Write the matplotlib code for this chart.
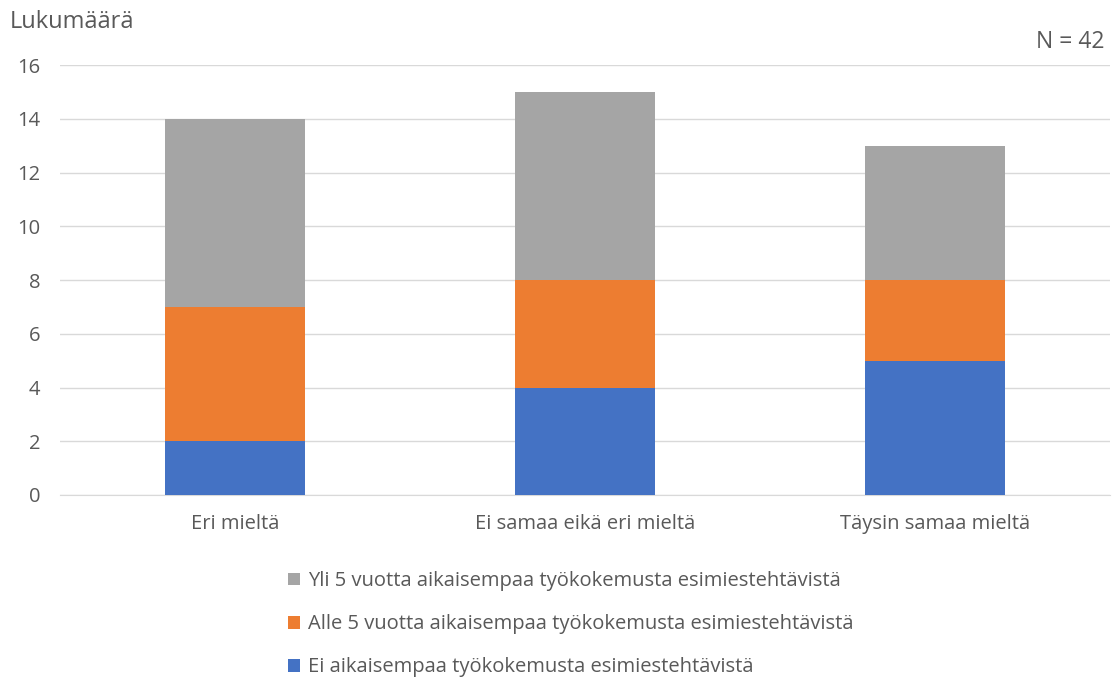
import matplotlib.pyplot as plt
import numpy as np

categories = ["Eri mieltä", "Ei samaa eikä eri mieltä", "Täysin samaa mieltä"]
series_labels = [
    "Ei aikaisempaa työkokemusta esimiestehtävistä",
    "Alle 5 vuotta aikaisempaa työkokemusta esimiestehtävistä",
    "Yli 5 vuotta aikaisempaa työkokemusta esimiestehtävistä",
]
ei_kokemusta = [2, 4, 5]
alle_5 = [5, 4, 3]
yli_5 = [7, 7, 5]
n_total = 42

colors = ["#4472C4", "#ED7D31", "#A5A5A5"]
text_color = "#595959"

plt.rcParams["font.family"] = ["Open Sans", "DejaVu Sans"]

fig = plt.figure(figsize=(11.12, 6.79), dpi=100)
ax = fig.add_axes([0.054, 0.271, 0.944, 0.633])

x = np.arange(len(categories))
bottom = np.zeros(len(categories))
handles = []
for vals, col, lab in zip([ei_kokemusta, alle_5, yli_5], colors, series_labels):
    h = ax.bar(x, vals, width=0.4, bottom=bottom, color=col, label=lab, zorder=3)
    handles.append(h)
    bottom += np.array(vals)

ax.set_xlim(-0.5, 2.5)
ax.set_ylim(0, 16)
ax.set_yticks(range(0, 17, 2))
ax.set_xticks(x)
ax.set_xticklabels(categories)
ax.yaxis.grid(True, color="#D9D9D9", linewidth=1, zorder=0)
ax.tick_params(axis="both", length=0, labelsize=14.5, colors=text_color)
ax.tick_params(axis="y", pad=14)
ax.tick_params(axis="x", pad=14)
for side in ["top", "right", "left"]:
    ax.spines[side].set_visible(False)
ax.spines["bottom"].set_color("#D9D9D9")

fig.text(10 / 1112, 1 - 22 / 679, "Lukumäärä", fontsize=17, color=text_color,
         ha="left", va="center")
fig.text(1105 / 1112, 1 - 42 / 679, f"N = {n_total}", fontsize=16.5, color=text_color,
         ha="right", va="center")

fig.legend(handles[::-1], series_labels[::-1], loc="upper left",
           bbox_to_anchor=(280 / 1112, 1 - 563 / 679), frameon=False, ncol=1,
           fontsize=14.5, labelcolor=text_color, handlelength=0.6, handleheight=0.6,
           handletextpad=0.4, labelspacing=1.15, borderaxespad=0)

fig.savefig("out.png", dpi=100)
